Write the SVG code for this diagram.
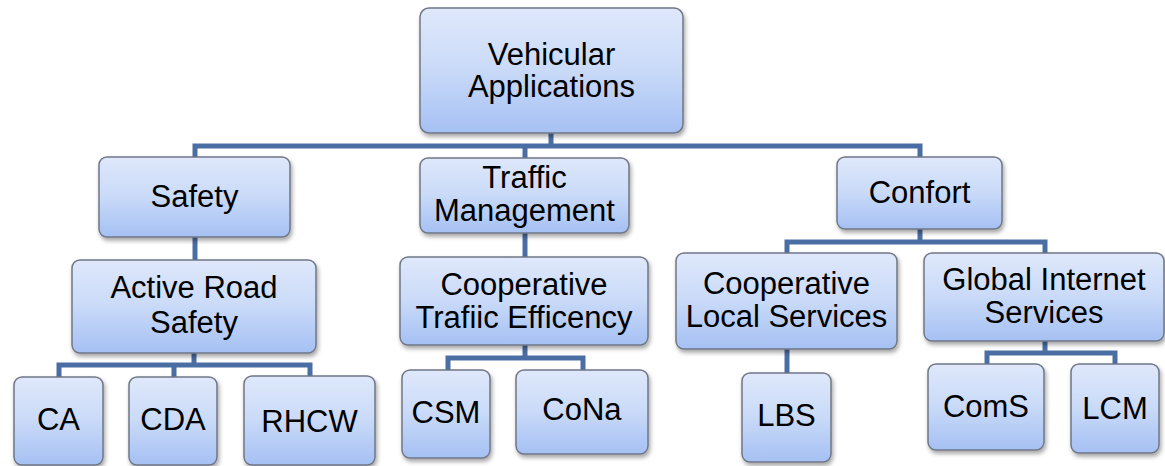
<svg xmlns="http://www.w3.org/2000/svg" width="1165" height="466" viewBox="0 0 1165 466">
<defs>
<linearGradient id="g" x1="0" y1="0" x2="0" y2="1">
<stop offset="0" stop-color="#dfe8fb"/>
<stop offset="0.5" stop-color="#c9daf8"/>
<stop offset="1" stop-color="#a5c0f3"/>
</linearGradient>
<filter id="sh" x="-10%" y="-10%" width="125%" height="130%">
<feDropShadow dx="1.5" dy="3" stdDeviation="2" flood-color="#000" flood-opacity="0.35"/>
</filter>
</defs>
<style>
.box{fill:url(#g);stroke:#6f7786;stroke-width:1.5;filter:url(#sh)}
.t{font-family:"Liberation Sans",Arial,sans-serif;font-size:31px;fill:#000;text-anchor:middle}
.c{fill:none;stroke:#4a6ea4;stroke-width:5;stroke-linejoin:miter}
</style>
<rect width="1165" height="466" fill="#fff"/>
<g id="connectors">
<path class="c" d="M551 133V146M195 157V146H920V157M525 146V158"/>
<path class="c" d="M195 237V260"/>
<path class="c" d="M194 353V365M59 377V365H310V377M174 365V377"/>
<path class="c" d="M525 233V257"/>
<path class="c" d="M525 345V358M448 370V358H583V370"/>
<path class="c" d="M920 229V242M787 253V242H1045V253"/>
<path class="c" d="M787 349V373"/>
<path class="c" d="M1045 341V353M987 364V353H1115V364"/>
</g>
<g id="root"><rect class="box" x="420" y="8" width="263" height="125" rx="9"/><text class="t" x="551.5" y="65">Vehicular</text><text class="t" x="551.5" y="97">Applications</text></g>
<g id="safety"><rect class="box" x="99" y="157" width="191" height="80" rx="8"/><text class="t" x="194.5" y="207">Safety</text></g>
<g id="traffic"><rect class="box" x="420" y="158" width="209" height="75" rx="8"/><text class="t" x="524.5" y="188">Traffic</text><text class="t" x="524.5" y="221">Management</text></g>
<g id="confort"><rect class="box" x="837" y="157" width="165" height="72" rx="8"/><text class="t" x="919.5" y="203">Confort</text></g>
<g id="ars"><rect class="box" x="72" y="260" width="244" height="93" rx="8"/><text class="t" x="194" y="298">Active Road</text><text class="t" x="194" y="333">Safety</text></g>
<g id="cte"><rect class="box" x="400" y="257" width="248" height="88" rx="8"/><text class="t" x="524" y="295">Cooperative</text><text class="t" x="524" y="328">Trafiic Efficency</text></g>
<g id="cls"><rect class="box" x="676" y="253" width="221" height="96" rx="8"/><text class="t" x="786.5" y="294">Cooperative</text><text class="t" x="786.5" y="327">Local Services</text></g>
<g id="gis"><rect class="box" x="924" y="253" width="240" height="88" rx="8"/><text class="t" x="1044" y="290">Global Internet</text><text class="t" x="1044" y="323">Services</text></g>
<g id="ca"><rect class="box" x="14" y="377" width="89" height="88" rx="8"/><text class="t" x="58.5" y="430">CA</text></g>
<g id="cda"><rect class="box" x="129" y="377" width="88" height="88" rx="8"/><text class="t" x="173" y="430">CDA</text></g>
<g id="rhcw"><rect class="box" x="244" y="376" width="131" height="89" rx="8"/><text class="t" x="309.5" y="432">RHCW</text></g>
<g id="csm"><rect class="box" x="402" y="370" width="88" height="88" rx="8"/><text class="t" x="446" y="423">CSM</text></g>
<g id="cona"><rect class="box" x="516" y="370" width="132" height="84" rx="8"/><text class="t" x="582" y="420">CoNa</text></g>
<g id="lbs"><rect class="box" x="742" y="373" width="89" height="89" rx="8"/><text class="t" x="786.5" y="426">LBS</text></g>
<g id="coms"><rect class="box" x="928" y="364" width="116" height="86" rx="8"/><text class="t" x="986" y="417">ComS</text></g>
<g id="lcm"><rect class="box" x="1071" y="364" width="88" height="89" rx="8"/><text class="t" x="1115" y="419">LCM</text></g>
</svg>
